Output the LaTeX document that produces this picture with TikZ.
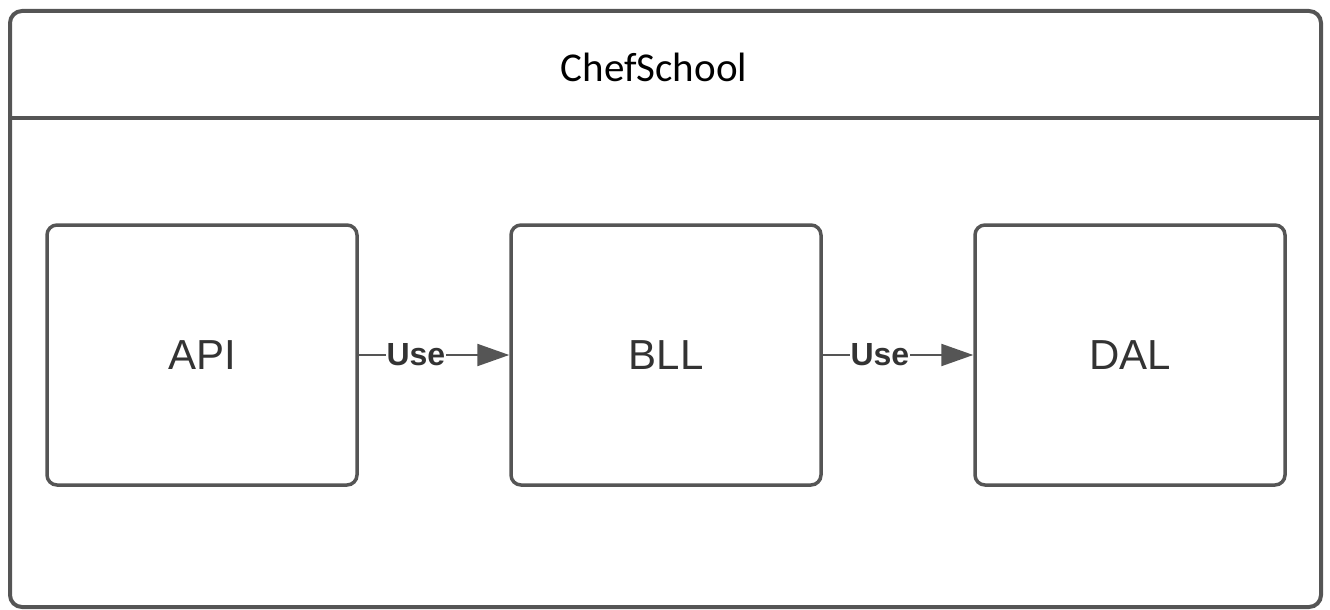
\documentclass[tikz,border=0pt]{standalone}
\usepackage{fontspec}
\setmainfont{Liberation Sans}
\newfontfamily\calfont{Carlito}
\usetikzlibrary{arrows.meta}
\definecolor{edge}{HTML}{555555}
\definecolor{txt}{HTML}{333333}
\tikzset{
  layerbox/.style={draw=edge, line width=3.5pt, rounded corners=10pt, minimum width=310pt, minimum height=260pt, inner sep=0pt, font=\fontsize{42}{46}\selectfont, text=txt},
  usearrow/.style={draw=edge, line width=2.2pt, -{Triangle[length=32pt,width=22pt]}},
  uselabel/.style={font=\bfseries\fontsize{32}{36}\selectfont, text=txt, fill=white, inner sep=1pt}
}
\begin{document}
\begin{tikzpicture}[x=1pt,y=-1pt]
\useasboundingbox (0,0) rectangle (1330,610);
\draw[edge, line width=4pt, rounded corners=12pt] (10,11) rectangle (1321,607);
\draw[edge, line width=4pt] (10,118) -- (1321,118);
\node[font=\calfont\fontsize{41}{46}\selectfont, text=black] (title) at (654,67) {ChefSchool};
\node[layerbox] (api) at (202,355) {API};
\node[layerbox] (bll) at (666,355) {BLL};
\node[layerbox] (dal) at (1130,355) {DAL};
\draw[usearrow] (api.east) -- node[uselabel, pos=0.38] {Use} (bll.west);
\draw[usearrow] (bll.east) -- node[uselabel, pos=0.38] {Use} (dal.west);
\end{tikzpicture}
\end{document}
